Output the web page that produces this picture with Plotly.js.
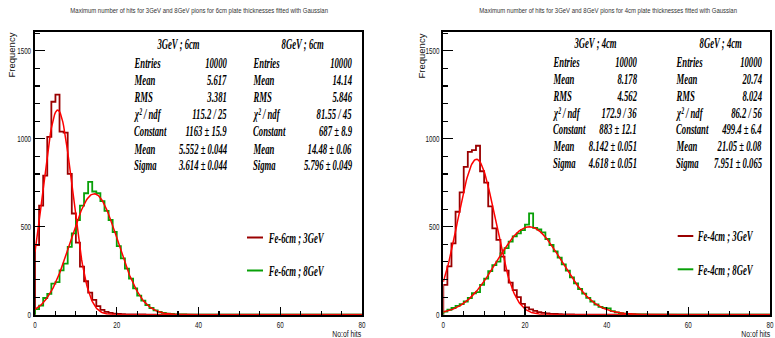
<!DOCTYPE html>
<html>
<head>
<meta charset="utf-8">
<script src="https://cdn.plot.ly/plotly-3.0.1.min.js"></script>
<style>
html,body{margin:0;padding:0;background:#fff;overflow:hidden;}
#plot{width:790px;height:338px;}
</style>
</head>
<body>
<div id="plot"></div>
<script>
// ---------------- DATA ----------------
const binLow = 0, binWidth = 1, xMax = 80;
// 6 cm plates (left panel), counts per bin of 1 hit starting at 0
const fe6cm3GeV = [395, 620, 790, 1010, 1210, 1250, 1040, 1035, 800, 575, 410, 273, 190, 125, 84, 49, 27, 16, 10, 6, 4, 3, 2, 2, 1, 1, 1];
const fe6cm8GeV = [32, 52, 95, 118, 176, 185, 252, 290, 385, 462, 538, 620, 690, 755, 700, 690, 645, 590, 538, 470, 390, 320, 262, 205, 150, 108, 80, 55, 38, 25, 16, 10, 6, 4, 2, 1, 1];
// 4 cm plates (right panel)
const fe4cm3GeV = [170, 275, 405, 585, 695, 840, 925, 935, 960, 815, 750, 615, 490, 425, 330, 250, 182, 140, 100, 62, 42, 30, 22, 15, 10, 7, 5, 4, 3, 2, 1, 1];
const fe4cm8GeV = [18, 28, 38, 50, 60, 75, 95, 122, 128, 170, 205, 248, 282, 302, 348, 378, 415, 445, 462, 481, 512, 576, 493, 484, 468, 430, 396, 360, 324, 286, 250, 212, 178, 146, 120, 96, 75, 58, 44, 38, 36, 20, 13, 9, 6, 4, 3, 2, 1, 1];

// Gaussian fit parameters [Constant, Mean, Sigma]
const fit6cm3GeV = [1163, 5.552, 3.614];
const fit6cm8GeV = [687, 14.48, 5.796];
const fit4cm3GeV = [883, 8.142, 4.618];
const fit4cm8GeV = [499.4, 21.05, 7.951];

// Stats box texts
const statLabels = ['Entries', 'Mean', 'RMS', 'χ² / ndf', 'Constant', 'Mean', 'Sigma'];
const stats6cm3GeV = ['10000', '5.617', '3.381', '115.2 / 25', '1163 ± 15.9', '5.552 ± 0.044', '3.614 ± 0.044'];
const stats6cm8GeV = ['10000', '14.14', '5.846', '81.55 / 45', '687 ± 8.9', '14.48 ± 0.06', '5.796 ± 0.049'];
const stats4cm3GeV = ['10000', '8.178', '4.562', '172.9 / 36', '883 ± 12.1', '8.142 ± 0.051', '4.618 ± 0.051'];
const stats4cm8GeV = ['10000', '20.74', '8.024', '86.2 / 56', '499.4 ± 6.4', '21.05 ± 0.08', '7.951 ± 0.065'];
const statHeaders = ['3GeV ; 6cm', '8GeV ; 6cm', '3GeV ; 4cm', '8GeV ; 4cm'];
const legendLabels = ['Fe-6cm ; 3GeV', 'Fe-6cm ; 8GeV', 'Fe-4cm ; 3GeV', 'Fe-4cm ; 8GeV'];
const titles = ['Maximum number of hits for 3GeV and 8GeV pions for 6cm plate thicknesses fitted with Gaussian',
                'Maximum number of hits for 3GeV and 8GeV pions for 4cm plate thicknesses fitted with Gaussian'];
const xTitle = 'No:of hits', yTitle = 'Frequency';
const yTicks = [0, 500, 1000, 1500];
const xTicks = [0, 20, 40, 60, 80];

// ---------------- STYLE ----------------
const W = 790, H = 338;   // drawing is slightly wider than the 775px window so the last tick label is not hidden
const C3 = '#9a0000', C8 = '#08a008', CFIT = '#ff0000';
const px = x => x / W, py = y => 1 - y / H;

function stepTrace(vals, xa, ya, color) {
  const x = [binLow], y = [0];
  vals.forEach((v, i) => { x.push(binLow + i * binWidth); y.push(v); });
  x.push(binLow + vals.length * binWidth); y.push(0);
  x.push(xMax); y.push(0);
  return {type: 'scatter', mode: 'lines', x, y, xaxis: xa, yaxis: ya,
          line: {shape: 'hv', color, width: 1.8}, hoverinfo: 'skip', showlegend: false};
}
function fitTrace(p, xa, ya) {
  const x = [], y = [];
  for (let i = 0; i <= 400; i++) {
    const xv = i * xMax / 400;
    x.push(xv); y.push(p[0] * Math.exp(-0.5 * Math.pow((xv - p[1]) / p[2], 2)));
  }
  return {type: 'scatter', mode: 'lines', x, y, xaxis: xa, yaxis: ya,
          line: {color: CFIT, width: 1.5}, hoverinfo: 'skip', showlegend: false};
}

const traces = [
  stepTrace(fe6cm3GeV, 'x', 'y', C3), stepTrace(fe6cm8GeV, 'x', 'y', C8),
  fitTrace(fit6cm3GeV, 'x', 'y'), fitTrace(fit6cm8GeV, 'x', 'y'),
  stepTrace(fe4cm3GeV, 'x2', 'y2', C3), stepTrace(fe4cm8GeV, 'x2', 'y2', C8),
  fitTrace(fit4cm3GeV, 'x2', 'y2'), fitTrace(fit4cm8GeV, 'x2', 'y2')
];

const tickFont = {family: 'Liberation Sans, Arial, sans-serif', size: 9.5, color: '#111'};
function xAxis(dom, anchor) {
  return {domain: dom, anchor, range: [0, xMax], tickvals: xTicks, ticks: 'inside', ticklen: 8,
          tickwidth: 1.2, tickcolor: '#000', showline: true, linewidth: 2, linecolor: '#000', mirror: true,
          showgrid: false, zeroline: false, tickfont: tickFont, ticklabeloverflow: 'allow',
          minor: {dtick: 5, ticks: 'inside', ticklen: 4, tickwidth: 1.2, tickcolor: '#000', showgrid: false}};
}
function yAxis(anchor) {
  return {domain: [py(314.7), py(31.7)], anchor, range: [0, 1608], tickvals: yTicks, ticks: 'inside', ticklen: 10,
          tickwidth: 1.2, tickcolor: '#000', showline: true, linewidth: 2, linecolor: '#000', mirror: true,
          showgrid: false, zeroline: false, tickfont: tickFont, ticklabeloverflow: 'allow',
          minor: {dtick: 100, ticks: 'inside', ticklen: 5, tickwidth: 1.2, tickcolor: '#000', showgrid: false}};
}

const annotations = [];
const squeeze = [];
const rootFont = {family: 'Liberation Serif, Times New Roman, serif', size: 15.5, color: '#000', style: 'italic', weight: 'bold'};
function ann(text, x, y, xanchor, font, sq, extra) {
  annotations.push(Object.assign({text, x: px(x), y: py(y), xref: 'paper', yref: 'paper', xanchor, yanchor: 'middle',
    showarrow: false, font, borderpad: 0}, extra || {}));
  squeeze.push(sq);
}
// titles
ann(titles[0], 199, 10, 'center', {family: 'Liberation Sans, Arial, sans-serif', size: 7.5, color: '#333'}, {w: 258});
ann(titles[1], 607.5, 10, 'center', {family: 'Liberation Sans, Arial, sans-serif', size: 7.5, color: '#333'}, {w: 258});
// axis titles
[[11, 362], [421, 771]].forEach(([yx, xr]) => {
  ann(yTitle, yx, 32, 'center', {family: 'Liberation Sans, Arial, sans-serif', size: 9.5, color: '#111'}, 1,
      {textangle: -90, yanchor: 'top'});
  ann(xTitle, xr, 333, 'right', {family: 'Liberation Sans, Arial, sans-serif', size: 9.5, color: '#111'}, 0.72);
});
// stats boxes
const statSets = [
  {hdr: statHeaders[0], vals: stats6cm3GeV, hx: 178, lx: 133, vx: 228, rows: [43.5, 62, 79.5, 96.5, 113.5, 130.5, 148, 165]},
  {hdr: statHeaders[1], vals: stats6cm8GeV, hx: 302, lx: 252, vx: 353, rows: [43.5, 62, 79.5, 96.5, 113.5, 130.5, 148, 165]},
  {hdr: statHeaders[2], vals: stats4cm3GeV, hx: 595, lx: 552, vx: 638, rows: [43, 61.7, 79, 95.7, 112.3, 128.3, 145.7, 162.3]},
  {hdr: statHeaders[3], vals: stats4cm8GeV, hx: 720, lx: 675, vx: 763, rows: [43, 61.7, 79, 95.7, 112.3, 128.3, 145.7, 162.3]}
];
const SQ = 0.56;
statSets.forEach(s => {
  ann(s.hdr, s.hx, s.rows[0], 'center', rootFont, SQ);
  statLabels.forEach((lab, i) => {
    ann(lab, s.lx, s.rows[i + 1], 'left', rootFont, SQ);
    ann(s.vals[i], s.vx, s.rows[i + 1], 'right', rootFont, SQ);
  });
});
// legends
const legFont = Object.assign({}, rootFont, {size: 14});
const legPos = [[247, 263, 266.5, 237.5, 238], [247, 263, 266.5, 270.5, 271],
                [677.7, 693.3, 695.5, 236, 236.5], [677.7, 693.3, 695.5, 269.3, 270]];
const legCol = [C3, C8, C3, C8];
const shapes = [];
legPos.forEach((p, i) => {
  shapes.push({type: 'line', xref: 'paper', yref: 'paper', x0: px(p[0]), x1: px(p[1]), y0: py(p[3]), y1: py(p[3]),
               line: {color: legCol[i], width: 2}});
  ann(legendLabels[i], p[2], p[4], 'left', legFont, 0.62);
});

const layout = {
  width: W, height: H, margin: {l: 0, r: 0, t: 0, b: 0},
  paper_bgcolor: '#fff', plot_bgcolor: '#fff', showlegend: false,
  xaxis: xAxis([35 / W, 362 / W], 'y'), yaxis: yAxis('x'),
  xaxis2: xAxis([443.3 / W, 770 / W], 'y2'), yaxis2: yAxis('x2'),
  annotations, shapes
};

function squeezeText(t, s, anchor) {
  if (!t) return;
  const b = t.getBBox();
  if (typeof s === 'object') s = s.w / b.width;
  if (!s || s === 1) return;
  const ax = anchor === 'left' ? b.x : anchor === 'right' ? b.x + b.width : b.x + b.width / 2;
  const prev = t.getAttribute('transform') || '';
  t.setAttribute('transform', (prev + ' translate(' + (ax * (1 - s)) + ',0) scale(' + s + ',1)').trim());
}

Plotly.newPlot('plot', traces, layout, {staticPlot: true}).then(gd => {
  gd.querySelectorAll('g.annotation').forEach(g => {
    const idx = +g.getAttribute('data-index');
    const a = layout.annotations[idx];
    if (!a) return;
    squeezeText(g.querySelector('text.annotation-text'), squeeze[idx], a.xanchor);
  });
  gd.querySelectorAll('g.xtick text, g.x2tick text').forEach(t => squeezeText(t, 0.66, 'center'));
  gd.querySelectorAll('g.ytick text, g.y2tick text').forEach(t => squeezeText(t, 0.66, 'right'));
});
</script>
</body>
</html>
